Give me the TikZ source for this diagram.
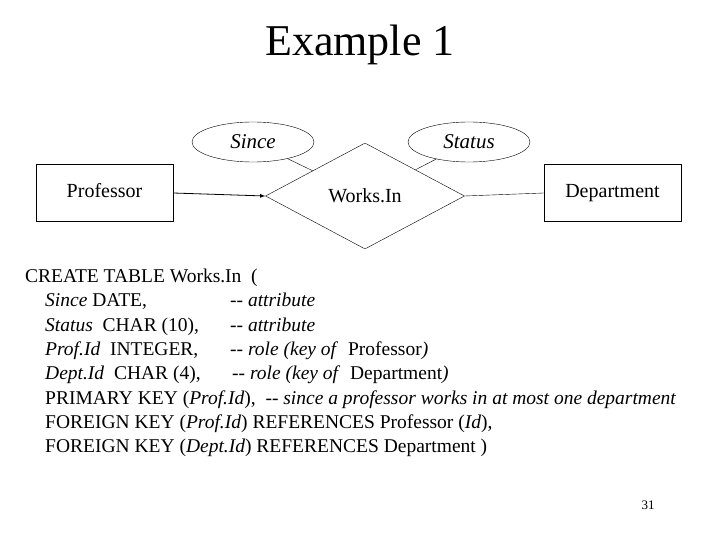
\documentclass[tikz,border=0pt]{standalone}
\usepackage{fontspec}
\setmainfont{Liberation Serif}
\usetikzlibrary{shapes.geometric}
\begin{document}
\begin{tikzpicture}[x=1pt,y=-1pt,
  ent/.style={draw, rectangle, minimum width=137pt, minimum height=57pt, text height=14pt, text depth=4pt, font=\fontsize{20}{24}\selectfont},
  attr/.style={draw, ellipse, minimum width=122pt, minimum height=40pt, inner sep=0pt, font=\fontsize{21}{24}\selectfont\itshape},
  rel/.style={draw, diamond, minimum width=199pt, minimum height=106pt, inner sep=0pt, font=\fontsize{20}{24}\selectfont},
  code/.style={anchor=base west, inner sep=0pt, font=\fontsize{19.5}{22}\selectfont}]
\useasboundingbox (0,0) rectangle (720,540);
\node (title) at (360,45) {\fontsize{44}{50}\selectfont Example 1};

\node[ent] (prof) at (104.5,193) {Professor};
\node[ent] (dept) at (612.5,193) {Department};
\node[rel] (works) at (365,196) {Works.In};
\node[attr] (since) at (253,142) {Since};
\node[attr] (status) at (469,142) {Status};

\draw[->, >=latex, thick] (prof.east) -- (works.west);
\draw (works.east) -- (dept.west);
\draw (since) -- (works);
\draw (status) -- (works);

\node[code] (l1) at (25,282) {CREATE TABLE Works.In \ (};
\node[code] (l2) at (45,306) {\textit{Since} DATE,};
\node[code] (c2) at (230,306) {\textit{{-}{-} attribute}};
\node[code] (l3) at (45,331) {\textit{Status} \ CHAR (10),};
\node[code] (c3) at (230,331) {\textit{{-}{-} attribute}};
\node[code] (l4) at (45,355) {\textit{Prof.Id} \ INTEGER,};
\node[code] (c4) at (230,355) {\textit{{-}{-} role (key of} \ Professor\textit{)}};
\node[code] (l5) at (45,379) {\textit{Dept.Id} \ CHAR (4),};
\node[code] (c5) at (232,379) {\textit{{-}{-} role (key of} \ Department\textit{)}};
\node[code] (l6) at (45,404) {PRIMARY KEY (\textit{Prof.Id}), \ \textit{{-}{-} since a professor works in at most one department}};
\node[code] (l7) at (45,428) {FOREIGN KEY (\textit{Prof.Id}) REFERENCES Professor (\textit{Id}),};
\node[code] (l8) at (45,452) {FOREIGN KEY (\textit{Dept.Id}) REFERENCES Department )};
\node (page) at (648,505) {\fontsize{13}{14}\selectfont 31};
\end{tikzpicture}
\end{document}
